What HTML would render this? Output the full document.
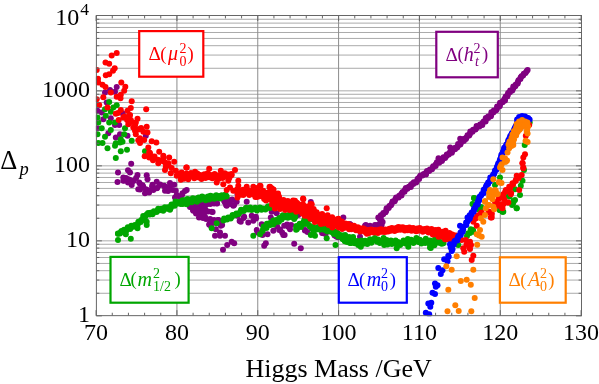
<!DOCTYPE html><html><head><meta charset="utf-8"><title>Higgs Mass fine tuning</title>
<style>html,body{margin:0;padding:0;background:#fff}svg{display:block}text{font-family:"Liberation Serif","DejaVu Serif",serif;fill:#000}.i{font-style:italic}</style></head><body>
<svg width="599" height="384" viewBox="0 0 599 384">
<rect width="599" height="384" fill="#fff"/>
<g stroke="#aaaaaa" stroke-width="1" fill="none">
<path d="M96.4 293.27H581.5"/>
<path d="M96.4 280.07H581.5"/>
<path d="M96.4 270.70H581.5"/>
<path d="M96.4 263.43H581.5"/>
<path d="M96.4 257.49H581.5"/>
<path d="M96.4 252.47H581.5"/>
<path d="M96.4 248.12H581.5"/>
<path d="M96.4 244.28H581.5"/>
<path d="M96.4 240.85H581.5"/>
<path d="M96.4 218.27H581.5"/>
<path d="M96.4 205.07H581.5"/>
<path d="M96.4 195.70H581.5"/>
<path d="M96.4 188.43H581.5"/>
<path d="M96.4 182.49H581.5"/>
<path d="M96.4 177.47H581.5"/>
<path d="M96.4 173.12H581.5"/>
<path d="M96.4 169.28H581.5"/>
<path d="M96.4 165.85H581.5"/>
<path d="M96.4 143.27H581.5"/>
<path d="M96.4 130.07H581.5"/>
<path d="M96.4 120.70H581.5"/>
<path d="M96.4 113.43H581.5"/>
<path d="M96.4 107.49H581.5"/>
<path d="M96.4 102.47H581.5"/>
<path d="M96.4 98.12H581.5"/>
<path d="M96.4 94.28H581.5"/>
<path d="M96.4 90.85H581.5"/>
<path d="M96.4 68.27H581.5"/>
<path d="M96.4 55.07H581.5"/>
<path d="M96.4 45.70H581.5"/>
<path d="M96.4 38.43H581.5"/>
<path d="M96.4 32.49H581.5"/>
<path d="M96.4 27.47H581.5"/>
<path d="M96.4 23.12H581.5"/>
<path d="M96.4 19.28H581.5"/>
</g>
<g stroke="#8c8c8c" stroke-width="1" fill="none">
<path d="M176.93 15.5V315.65"/>
<path d="M257.76 15.5V315.65"/>
<path d="M338.59 15.5V315.65"/>
<path d="M419.42 15.5V315.65"/>
<path d="M500.25 15.5V315.65"/>
</g>
<clipPath id="c"><rect x="95.9" y="15.0" width="486.1" height="301.15"/></clipPath><g clip-path="url(#c)"><g fill="#800080"><circle cx="116.7" cy="87.0" r="3"/><circle cx="110.0" cy="90.0" r="3"/><circle cx="105.0" cy="92.5" r="3"/><circle cx="115.0" cy="91.7" r="3"/><circle cx="106.7" cy="102.5" r="3"/><circle cx="97.5" cy="110.8" r="3"/><circle cx="101.7" cy="112.5" r="3"/><circle cx="122.5" cy="113.3" r="3"/><circle cx="110.8" cy="118.3" r="3"/><circle cx="103.3" cy="119.2" r="3"/><circle cx="115.0" cy="125.0" r="3"/><circle cx="119.2" cy="125.0" r="3"/><circle cx="97.5" cy="128.3" r="3"/><circle cx="108.3" cy="133.3" r="3"/><circle cx="120.0" cy="134.2" r="3"/><circle cx="127.5" cy="135.8" r="3"/><circle cx="115.8" cy="137.5" r="3"/><circle cx="145.8" cy="135.8" r="3"/><circle cx="131.2" cy="163.7" r="3"/><circle cx="118.0" cy="172.5" r="3"/><circle cx="128.0" cy="170.3" r="3"/><circle cx="130.0" cy="172.5" r="3"/><circle cx="137.5" cy="175.0" r="3"/><circle cx="146.7" cy="175.3" r="3"/><circle cx="123.3" cy="177.5" r="3"/><circle cx="128.3" cy="179.2" r="3"/><circle cx="147.5" cy="179.2" r="3"/><circle cx="117.5" cy="182.0" r="3"/><circle cx="123.3" cy="180.8" r="3"/><circle cx="133.7" cy="180.8" r="3"/><circle cx="131.7" cy="185.0" r="3"/><circle cx="139.2" cy="182.5" r="3"/><circle cx="142.5" cy="185.3" r="3"/><circle cx="138.3" cy="189.2" r="3"/><circle cx="145.8" cy="189.2" r="3"/><circle cx="145.0" cy="193.3" r="3"/><circle cx="149.2" cy="190.8" r="3"/><circle cx="152.5" cy="184.7" r="3"/><circle cx="156.7" cy="181.7" r="3"/><circle cx="156.7" cy="188.3" r="3"/><circle cx="153.3" cy="190.0" r="3"/><circle cx="160.0" cy="185.0" r="3"/><circle cx="164.2" cy="185.8" r="3"/><circle cx="165.0" cy="190.8" r="3"/><circle cx="170.0" cy="183.0" r="3"/><circle cx="169.2" cy="186.7" r="3"/><circle cx="174.2" cy="184.7" r="3"/><circle cx="172.5" cy="190.0" r="3"/><circle cx="175.8" cy="190.8" r="3"/><circle cx="176.7" cy="195.0" r="3"/><circle cx="175.0" cy="197.5" r="3"/><circle cx="182.5" cy="193.3" r="3"/><circle cx="186.7" cy="190.0" r="3"/><circle cx="180.0" cy="196.7" r="3"/><circle cx="237.5" cy="194.2" r="3"/><circle cx="190.8" cy="206.7" r="3"/><circle cx="195.8" cy="205.0" r="3"/><circle cx="201.7" cy="204.2" r="3"/><circle cx="206.7" cy="204.2" r="3"/><circle cx="211.7" cy="203.3" r="3"/><circle cx="216.7" cy="203.3" r="3"/><circle cx="193.3" cy="210.8" r="3"/><circle cx="198.3" cy="211.7" r="3"/><circle cx="203.3" cy="210.0" r="3"/><circle cx="211.7" cy="211.7" r="3"/><circle cx="200.0" cy="215.8" r="3"/><circle cx="205.0" cy="216.7" r="3"/><circle cx="210.0" cy="220.0" r="3"/><circle cx="218.3" cy="220.0" r="3"/><circle cx="210.0" cy="225.0" r="3"/><circle cx="215.8" cy="229.2" r="3"/><circle cx="220.8" cy="225.8" r="3"/><circle cx="220.0" cy="232.5" r="3"/><circle cx="215.0" cy="235.8" r="3"/><circle cx="220.0" cy="235.8" r="3"/><circle cx="225.0" cy="235.8" r="3"/><circle cx="231.7" cy="241.7" r="3"/><circle cx="234.2" cy="243.3" r="3"/><circle cx="227.2" cy="245.0" r="3"/><circle cx="223.0" cy="249.7" r="3"/><circle cx="225.0" cy="202.5" r="3"/><circle cx="230.0" cy="200.8" r="3"/><circle cx="226.7" cy="205.8" r="3"/><circle cx="233.3" cy="205.8" r="3"/><circle cx="236.7" cy="201.7" r="3"/><circle cx="246.7" cy="201.7" r="3"/><circle cx="237.5" cy="215.8" r="3"/><circle cx="240.8" cy="221.7" r="3"/><circle cx="244.2" cy="216.7" r="3"/><circle cx="248.3" cy="222.5" r="3"/><circle cx="251.7" cy="215.8" r="3"/><circle cx="255.8" cy="216.7" r="3"/><circle cx="253.3" cy="220.8" r="3"/><circle cx="256.7" cy="230.0" r="3"/><circle cx="261.7" cy="224.2" r="3"/><circle cx="257.5" cy="232.5" r="3"/><circle cx="262.5" cy="235.0" r="3"/><circle cx="267.5" cy="234.2" r="3"/><circle cx="273.3" cy="230.8" r="3"/><circle cx="279.2" cy="230.0" r="3"/><circle cx="265.8" cy="243.3" r="3"/><circle cx="264.2" cy="245.8" r="3"/><circle cx="271.7" cy="211.7" r="3"/><circle cx="270.8" cy="217.5" r="3"/><circle cx="276.7" cy="213.3" r="3"/><circle cx="283.3" cy="235.0" r="3"/><circle cx="284.2" cy="225.8" r="3"/><circle cx="288.3" cy="226.7" r="3"/><circle cx="290.0" cy="229.2" r="3"/><circle cx="294.2" cy="243.7" r="3"/><circle cx="300.8" cy="248.3" r="3"/><circle cx="305.0" cy="230.0" r="3"/><circle cx="323.3" cy="233.3" r="3"/><circle cx="336.7" cy="236.7" r="3"/><circle cx="343.3" cy="217.5" r="3"/><circle cx="350.0" cy="224.2" r="3"/><circle cx="365.8" cy="225.0" r="3"/><circle cx="298.3" cy="215.0" r="3"/><circle cx="310.8" cy="202.0" r="3"/><circle cx="350.0" cy="224.2" r="3"/><circle cx="351.7" cy="238.3" r="3"/><circle cx="360.0" cy="236.7" r="3"/><circle cx="365.0" cy="225.8" r="3"/><circle cx="370.0" cy="225.8" r="3"/><circle cx="375.0" cy="225.0" r="3"/><circle cx="378.3" cy="217.5" r="3"/><circle cx="376.0" cy="225.6" r="3"/><circle cx="377.7" cy="225.3" r="3"/><circle cx="379.0" cy="224.6" r="3"/><circle cx="381.5" cy="225.2" r="3"/><circle cx="381.3" cy="223.9" r="3"/><circle cx="382.6" cy="222.0" r="3"/><circle cx="381.4" cy="220.7" r="3"/><circle cx="379.9" cy="219.6" r="3"/><circle cx="380.2" cy="218.3" r="3"/><circle cx="380.8" cy="216.8" r="3"/><circle cx="380.9" cy="215.2" r="3"/><circle cx="383.2" cy="214.3" r="3"/><circle cx="383.3" cy="213.0" r="3"/><circle cx="385.6" cy="212.2" r="3"/><circle cx="386.3" cy="210.4" r="3"/><circle cx="386.6" cy="208.3" r="3"/><circle cx="388.7" cy="207.9" r="3"/><circle cx="389.4" cy="206.1" r="3"/><circle cx="391.0" cy="205.3" r="3"/><circle cx="391.7" cy="203.8" r="3"/><circle cx="392.5" cy="201.6" r="3"/><circle cx="394.7" cy="201.3" r="3"/><circle cx="395.3" cy="199.3" r="3"/><circle cx="396.1" cy="197.6" r="3"/><circle cx="398.6" cy="197.4" r="3"/><circle cx="399.2" cy="195.7" r="3"/><circle cx="401.5" cy="195.4" r="3"/><circle cx="401.4" cy="193.7" r="3"/><circle cx="402.6" cy="191.9" r="3"/><circle cx="404.5" cy="191.7" r="3"/><circle cx="404.8" cy="190.1" r="3"/><circle cx="405.8" cy="188.1" r="3"/><circle cx="407.4" cy="188.8" r="3"/><circle cx="408.8" cy="186.7" r="3"/><circle cx="410.8" cy="187.1" r="3"/><circle cx="410.8" cy="185.3" r="3"/><circle cx="411.8" cy="184.0" r="3"/><circle cx="413.3" cy="183.9" r="3"/><circle cx="413.8" cy="182.3" r="3"/><circle cx="416.2" cy="182.4" r="3"/><circle cx="417.2" cy="180.5" r="3"/><circle cx="417.7" cy="178.7" r="3"/><circle cx="419.1" cy="178.9" r="3"/><circle cx="419.5" cy="177.0" r="3"/><circle cx="420.5" cy="175.5" r="3"/><circle cx="422.5" cy="175.4" r="3"/><circle cx="423.7" cy="173.9" r="3"/><circle cx="426.0" cy="174.4" r="3"/><circle cx="426.2" cy="172.4" r="3"/><circle cx="427.0" cy="170.9" r="3"/><circle cx="429.2" cy="171.0" r="3"/><circle cx="429.9" cy="169.5" r="3"/><circle cx="432.0" cy="169.3" r="3"/><circle cx="432.8" cy="167.5" r="3"/><circle cx="433.2" cy="166.2" r="3"/><circle cx="435.6" cy="166.0" r="3"/><circle cx="435.8" cy="164.2" r="3"/><circle cx="436.9" cy="162.2" r="3"/><circle cx="439.2" cy="162.7" r="3"/><circle cx="439.4" cy="160.9" r="3"/><circle cx="441.9" cy="161.1" r="3"/><circle cx="442.5" cy="159.5" r="3"/><circle cx="443.5" cy="157.3" r="3"/><circle cx="445.1" cy="157.9" r="3"/><circle cx="446.5" cy="155.9" r="3"/><circle cx="446.8" cy="154.4" r="3"/><circle cx="448.8" cy="154.5" r="3"/><circle cx="449.5" cy="152.8" r="3"/><circle cx="451.8" cy="152.8" r="3"/><circle cx="452.1" cy="151.3" r="3"/><circle cx="452.3" cy="149.5" r="3"/><circle cx="455.0" cy="149.3" r="3"/><circle cx="455.1" cy="147.8" r="3"/><circle cx="457.2" cy="147.5" r="3"/><circle cx="457.9" cy="146.0" r="3"/><circle cx="458.1" cy="144.1" r="3"/><circle cx="460.4" cy="144.4" r="3"/><circle cx="461.0" cy="142.6" r="3"/><circle cx="461.2" cy="140.6" r="3"/><circle cx="463.8" cy="140.9" r="3"/><circle cx="464.1" cy="138.8" r="3"/><circle cx="465.9" cy="138.9" r="3"/><circle cx="466.5" cy="137.4" r="3"/><circle cx="467.5" cy="135.3" r="3"/><circle cx="469.2" cy="135.6" r="3"/><circle cx="469.9" cy="133.9" r="3"/><circle cx="470.3" cy="131.6" r="3"/><circle cx="472.5" cy="131.8" r="3"/><circle cx="473.1" cy="129.7" r="3"/><circle cx="475.5" cy="129.6" r="3"/><circle cx="476.1" cy="128.2" r="3"/><circle cx="476.6" cy="125.9" r="3"/><circle cx="479.4" cy="126.6" r="3"/><circle cx="480.1" cy="124.6" r="3"/><circle cx="482.3" cy="125.1" r="3"/><circle cx="482.4" cy="123.3" r="3"/><circle cx="483.6" cy="121.5" r="3"/><circle cx="485.6" cy="121.4" r="3"/><circle cx="485.7" cy="119.6" r="3"/><circle cx="485.8" cy="118.1" r="3"/><circle cx="488.1" cy="118.1" r="3"/><circle cx="488.2" cy="116.4" r="3"/><circle cx="490.9" cy="116.3" r="3"/><circle cx="491.3" cy="114.5" r="3"/><circle cx="491.4" cy="112.2" r="3"/><circle cx="493.6" cy="112.2" r="3"/><circle cx="493.8" cy="110.6" r="3"/><circle cx="496.2" cy="110.2" r="3"/><circle cx="497.0" cy="108.5" r="3"/><circle cx="497.1" cy="106.4" r="3"/><circle cx="499.7" cy="106.3" r="3"/><circle cx="500.1" cy="104.3" r="3"/><circle cx="500.0" cy="102.7" r="3"/><circle cx="502.6" cy="102.2" r="3"/><circle cx="502.9" cy="100.9" r="3"/><circle cx="505.0" cy="100.6" r="3"/><circle cx="504.7" cy="98.7" r="3"/><circle cx="505.7" cy="96.6" r="3"/><circle cx="507.3" cy="96.5" r="3"/><circle cx="507.8" cy="94.8" r="3"/><circle cx="508.1" cy="93.1" r="3"/><circle cx="509.9" cy="92.3" r="3"/><circle cx="510.2" cy="90.4" r="3"/><circle cx="512.3" cy="90.6" r="3"/><circle cx="513.3" cy="88.2" r="3"/><circle cx="513.3" cy="86.6" r="3"/><circle cx="515.3" cy="86.2" r="3"/><circle cx="515.8" cy="84.5" r="3"/><circle cx="517.7" cy="83.6" r="3"/><circle cx="518.0" cy="81.7" r="3"/><circle cx="518.5" cy="80.2" r="3"/><circle cx="520.4" cy="79.1" r="3"/><circle cx="520.6" cy="77.6" r="3"/><circle cx="521.5" cy="76.2" r="3"/><circle cx="523.1" cy="75.6" r="3"/><circle cx="523.8" cy="73.7" r="3"/><circle cx="525.5" cy="73.0" r="3"/><circle cx="526.6" cy="71.3" r="3"/><circle cx="438.5" cy="158.3" r="3"/><circle cx="450.2" cy="147.5" r="3"/><circle cx="460.2" cy="138.7" r="3"/><circle cx="527.6" cy="70.0" r="3"/><circle cx="190.0" cy="207.0" r="3"/><circle cx="194.0" cy="206.0" r="3"/><circle cx="198.0" cy="205.0" r="3"/><circle cx="202.0" cy="205.0" r="3"/><circle cx="206.1" cy="204.0" r="3"/><circle cx="210.1" cy="204.0" r="3"/><circle cx="214.1" cy="203.5" r="3"/><circle cx="217.1" cy="203.5" r="3"/><circle cx="193.0" cy="210.0" r="3"/><circle cx="197.0" cy="210.0" r="3"/><circle cx="201.0" cy="209.0" r="3"/><circle cx="205.1" cy="209.0" r="3"/><circle cx="196.0" cy="213.5" r="3"/><circle cx="200.0" cy="214.0" r="3"/><circle cx="204.0" cy="213.0" r="3"/><circle cx="208.1" cy="211.5" r="3"/><circle cx="212.6" cy="212.0" r="3"/><circle cx="199.0" cy="217.6" r="3"/><circle cx="203.0" cy="218.1" r="3"/><circle cx="206.1" cy="219.1" r="3"/><circle cx="210.1" cy="219.1" r="3"/><circle cx="214.1" cy="220.1" r="3"/><circle cx="218.1" cy="220.1" r="3"/><circle cx="209.1" cy="224.6" r="3"/><circle cx="213.1" cy="223.1" r="3"/><circle cx="220.1" cy="223.1" r="3"/><circle cx="222.1" cy="225.1" r="3"/><circle cx="224.1" cy="201.0" r="3"/><circle cx="228.1" cy="200.0" r="3"/><circle cx="232.1" cy="199.5" r="3"/><circle cx="226.1" cy="205.0" r="3"/><circle cx="230.1" cy="204.0" r="3"/><circle cx="234.1" cy="205.0" r="3"/><circle cx="236.1" cy="201.0" r="3"/><circle cx="238.1" cy="194.0" r="3"/><circle cx="185.0" cy="191.0" r="3"/><circle cx="182.0" cy="195.0" r="3"/><circle cx="239.6" cy="221.1" r="3"/><circle cx="287.1" cy="224.5" r="3"/><circle cx="291.1" cy="225.0" r="3"/><circle cx="284.6" cy="235.1" r="3"/><circle cx="280.1" cy="229.5" r="3"/><circle cx="282.1" cy="232.6" r="3"/><circle cx="277.1" cy="226.5" r="3"/><circle cx="243.5" cy="218.0" r="3"/><circle cx="256.0" cy="218.5" r="3"/><circle cx="305.0" cy="230.5" r="3"/><circle cx="307.5" cy="232.0" r="3"/><circle cx="322.1" cy="233.0" r="3"/><circle cx="325.6" cy="234.0" r="3"/><circle cx="334.6" cy="235.5" r="3"/><circle cx="338.1" cy="237.2" r="3"/><circle cx="126.0" cy="178.0" r="3"/><circle cx="130.0" cy="180.0" r="3"/><circle cx="128.0" cy="182.5" r="3"/><circle cx="133.0" cy="181.0" r="3"/><circle cx="136.1" cy="178.0" r="3"/><circle cx="140.1" cy="184.0" r="3"/><circle cx="143.1" cy="186.5" r="3"/><circle cx="140.1" cy="189.5" r="3"/><circle cx="147.1" cy="190.1" r="3"/><circle cx="152.1" cy="186.5" r="3"/><circle cx="157.1" cy="188.0" r="3"/><circle cx="160.1" cy="184.5" r="3"/><circle cx="164.6" cy="186.5" r="3"/><circle cx="168.1" cy="191.1" r="3"/><circle cx="149.1" cy="192.6" r="3"/><circle cx="124.0" cy="180.5" r="3"/></g><g fill="#00a600"><circle cx="109.2" cy="102.0" r="3"/><circle cx="116.7" cy="105.3" r="3"/><circle cx="113.3" cy="107.5" r="3"/><circle cx="105.0" cy="109.2" r="3"/><circle cx="110.8" cy="111.7" r="3"/><circle cx="105.8" cy="115.8" r="3"/><circle cx="97.5" cy="117.5" r="3"/><circle cx="98.3" cy="122.5" r="3"/><circle cx="109.2" cy="122.5" r="3"/><circle cx="115.0" cy="122.5" r="3"/><circle cx="125.0" cy="128.3" r="3"/><circle cx="101.7" cy="128.3" r="3"/><circle cx="110.8" cy="130.0" r="3"/><circle cx="97.5" cy="134.2" r="3"/><circle cx="124.2" cy="134.2" r="3"/><circle cx="105.0" cy="136.7" r="3"/><circle cx="120.8" cy="139.2" r="3"/><circle cx="131.7" cy="140.8" r="3"/><circle cx="102.5" cy="143.0" r="3"/><circle cx="98.3" cy="143.0" r="3"/><circle cx="115.8" cy="143.3" r="3"/><circle cx="107.5" cy="148.3" r="3"/><circle cx="115.0" cy="145.8" r="3"/><circle cx="120.0" cy="142.5" r="3"/><circle cx="122.5" cy="141.7" r="3"/><circle cx="120.8" cy="151.3" r="3"/><circle cx="127.0" cy="149.7" r="3"/><circle cx="115.8" cy="158.0" r="3"/><circle cx="145.0" cy="151.3" r="3"/><circle cx="118.0" cy="233.5" r="3"/><circle cx="120.0" cy="233.6" r="3"/><circle cx="121.0" cy="231.9" r="3"/><circle cx="121.5" cy="231.0" r="3"/><circle cx="123.7" cy="231.6" r="3"/><circle cx="124.1" cy="229.8" r="3"/><circle cx="126.2" cy="230.8" r="3"/><circle cx="127.2" cy="228.9" r="3"/><circle cx="127.8" cy="227.2" r="3"/><circle cx="130.2" cy="229.0" r="3"/><circle cx="130.5" cy="227.4" r="3"/><circle cx="131.3" cy="225.7" r="3"/><circle cx="133.3" cy="226.8" r="3"/><circle cx="134.9" cy="224.9" r="3"/><circle cx="137.3" cy="225.9" r="3"/><circle cx="138.1" cy="223.6" r="3"/><circle cx="138.4" cy="221.8" r="3"/><circle cx="140.8" cy="222.0" r="3"/><circle cx="141.3" cy="220.1" r="3"/><circle cx="144.1" cy="220.1" r="3"/><circle cx="143.4" cy="218.0" r="3"/><circle cx="143.2" cy="216.0" r="3"/><circle cx="145.2" cy="216.7" r="3"/><circle cx="146.7" cy="214.6" r="3"/><circle cx="148.1" cy="212.9" r="3"/><circle cx="149.6" cy="214.5" r="3"/><circle cx="150.6" cy="212.7" r="3"/><circle cx="152.5" cy="214.3" r="3"/><circle cx="153.0" cy="212.9" r="3"/><circle cx="153.9" cy="211.2" r="3"/><circle cx="156.6" cy="212.0" r="3"/><circle cx="157.5" cy="210.6" r="3"/><circle cx="158.2" cy="208.7" r="3"/><circle cx="159.7" cy="210.2" r="3"/><circle cx="161.5" cy="208.7" r="3"/><circle cx="163.2" cy="210.8" r="3"/><circle cx="164.3" cy="208.9" r="3"/><circle cx="164.9" cy="207.3" r="3"/><circle cx="167.3" cy="208.8" r="3"/><circle cx="168.0" cy="207.3" r="3"/><circle cx="170.6" cy="208.2" r="3"/><circle cx="171.3" cy="206.2" r="3"/><circle cx="171.5" cy="204.4" r="3"/><circle cx="174.6" cy="205.8" r="3"/><circle cx="175.2" cy="203.8" r="3"/><circle cx="175.5" cy="201.6" r="3"/><circle cx="177.5" cy="203.6" r="3"/><circle cx="178.2" cy="201.9" r="3"/><circle cx="180.7" cy="204.0" r="3"/><circle cx="181.0" cy="202.5" r="3"/><circle cx="182.5" cy="200.2" r="3"/><circle cx="184.1" cy="202.9" r="3"/><circle cx="185.7" cy="200.9" r="3"/><circle cx="187.2" cy="203.2" r="3"/><circle cx="180.5" cy="203.1" r="3"/><circle cx="181.2" cy="201.6" r="3"/><circle cx="182.8" cy="203.9" r="3"/><circle cx="183.3" cy="202.3" r="3"/><circle cx="184.6" cy="200.3" r="3"/><circle cx="185.8" cy="202.8" r="3"/><circle cx="186.5" cy="201.0" r="3"/><circle cx="187.3" cy="198.9" r="3"/><circle cx="189.1" cy="201.7" r="3"/><circle cx="189.4" cy="199.5" r="3"/><circle cx="191.7" cy="202.3" r="3"/><circle cx="192.5" cy="200.0" r="3"/><circle cx="192.8" cy="198.3" r="3"/><circle cx="194.9" cy="200.7" r="3"/><circle cx="195.6" cy="198.8" r="3"/><circle cx="197.0" cy="201.7" r="3"/><circle cx="197.6" cy="199.8" r="3"/><circle cx="198.5" cy="197.5" r="3"/><circle cx="199.9" cy="200.1" r="3"/><circle cx="201.4" cy="198.1" r="3"/><circle cx="202.1" cy="196.5" r="3"/><circle cx="203.2" cy="199.0" r="3"/><circle cx="204.6" cy="197.4" r="3"/><circle cx="205.6" cy="200.2" r="3"/><circle cx="206.4" cy="198.6" r="3"/><circle cx="208.0" cy="196.5" r="3"/><circle cx="209.2" cy="199.4" r="3"/><circle cx="209.8" cy="197.4" r="3"/><circle cx="210.5" cy="195.7" r="3"/><circle cx="212.3" cy="198.2" r="3"/><circle cx="213.2" cy="196.5" r="3"/><circle cx="214.4" cy="198.7" r="3"/><circle cx="215.6" cy="197.1" r="3"/><circle cx="216.2" cy="195.2" r="3"/><circle cx="218.3" cy="197.9" r="3"/><circle cx="219.0" cy="195.9" r="3"/><circle cx="220.1" cy="198.4" r="3"/><circle cx="221.2" cy="196.8" r="3"/><circle cx="221.8" cy="195.3" r="3"/><circle cx="223.3" cy="197.1" r="3"/><circle cx="224.6" cy="196.1" r="3"/><circle cx="225.5" cy="194.6" r="3"/><circle cx="226.7" cy="196.6" r="3"/><circle cx="118.0" cy="233.7" r="3"/><circle cx="118.0" cy="240.0" r="3"/><circle cx="130.8" cy="238.7" r="3"/><circle cx="146.7" cy="221.7" r="3"/><circle cx="146.7" cy="225.0" r="3"/><circle cx="125.8" cy="234.2" r="3"/><circle cx="137.5" cy="228.3" r="3"/><circle cx="170.0" cy="209.7" r="3"/><circle cx="186.7" cy="204.2" r="3"/><circle cx="211.7" cy="228.3" r="3"/><circle cx="216.7" cy="223.3" r="3"/><circle cx="223.4" cy="220.6" r="3"/><circle cx="224.1" cy="218.4" r="3"/><circle cx="227.0" cy="219.5" r="3"/><circle cx="228.2" cy="217.6" r="3"/><circle cx="230.7" cy="218.4" r="3"/><circle cx="231.9" cy="216.8" r="3"/><circle cx="232.6" cy="214.9" r="3"/><circle cx="235.5" cy="215.1" r="3"/><circle cx="236.4" cy="213.4" r="3"/><circle cx="238.7" cy="214.0" r="3"/><circle cx="240.2" cy="212.1" r="3"/><circle cx="241.1" cy="209.8" r="3"/><circle cx="243.8" cy="211.1" r="3"/><circle cx="244.9" cy="209.2" r="3"/><circle cx="246.1" cy="207.8" r="3"/><circle cx="248.3" cy="209.6" r="3"/><circle cx="250.2" cy="207.4" r="3"/><circle cx="251.6" cy="209.9" r="3"/><circle cx="253.7" cy="209.1" r="3"/><circle cx="255.2" cy="207.8" r="3"/><circle cx="256.9" cy="210.4" r="3"/><circle cx="258.7" cy="208.5" r="3"/><circle cx="259.9" cy="207.5" r="3"/><circle cx="261.5" cy="209.7" r="3"/><circle cx="262.7" cy="208.6" r="3"/><circle cx="265.4" cy="209.6" r="3"/><circle cx="266.7" cy="207.9" r="3"/><circle cx="268.1" cy="206.3" r="3"/><circle cx="269.9" cy="207.9" r="3"/><circle cx="253.3" cy="235.8" r="3"/><circle cx="260.0" cy="234.2" r="3"/><circle cx="262.6" cy="231.1" r="3"/><circle cx="263.1" cy="229.0" r="3"/><circle cx="263.7" cy="226.6" r="3"/><circle cx="266.5" cy="227.9" r="3"/><circle cx="266.8" cy="225.8" r="3"/><circle cx="266.9" cy="223.7" r="3"/><circle cx="270.2" cy="225.0" r="3"/><circle cx="270.0" cy="223.1" r="3"/><circle cx="273.3" cy="224.6" r="3"/><circle cx="273.2" cy="222.6" r="3"/><circle cx="273.3" cy="220.5" r="3"/><circle cx="275.8" cy="221.9" r="3"/><circle cx="276.1" cy="220.0" r="3"/><circle cx="278.9" cy="221.8" r="3"/><circle cx="279.1" cy="220.0" r="3"/><circle cx="279.3" cy="217.9" r="3"/><circle cx="281.6" cy="219.4" r="3"/><circle cx="282.2" cy="217.7" r="3"/><circle cx="282.8" cy="215.3" r="3"/><circle cx="285.2" cy="217.3" r="3"/><circle cx="285.9" cy="215.6" r="3"/><circle cx="287.9" cy="217.7" r="3"/><circle cx="288.6" cy="216.0" r="3"/><circle cx="289.8" cy="214.3" r="3"/><circle cx="291.0" cy="216.9" r="3"/><circle cx="291.7" cy="214.7" r="3"/><circle cx="295.4" cy="213.8" r="3"/><circle cx="293.4" cy="216.1" r="3"/><circle cx="295.3" cy="217.1" r="3"/><circle cx="294.2" cy="219.0" r="3"/><circle cx="296.1" cy="229.7" r="3"/><circle cx="296.3" cy="227.6" r="3"/><circle cx="296.4" cy="226.1" r="3"/><circle cx="298.9" cy="226.0" r="3"/><circle cx="299.7" cy="223.7" r="3"/><circle cx="302.4" cy="224.0" r="3"/><circle cx="303.7" cy="221.8" r="3"/><circle cx="304.5" cy="219.6" r="3"/><circle cx="306.7" cy="221.0" r="3"/><circle cx="308.6" cy="219.4" r="3"/><circle cx="309.6" cy="217.6" r="3"/><circle cx="312.4" cy="219.2" r="3"/><circle cx="313.3" cy="233.3" r="3"/><circle cx="315.0" cy="235.8" r="3"/><circle cx="310.8" cy="235.0" r="3"/><circle cx="326.7" cy="238.3" r="3"/><circle cx="335.5" cy="245.0" r="3"/><circle cx="309.9" cy="226.4" r="3"/><circle cx="312.0" cy="228.8" r="3"/><circle cx="313.3" cy="227.8" r="3"/><circle cx="314.7" cy="230.1" r="3"/><circle cx="316.8" cy="228.2" r="3"/><circle cx="318.2" cy="227.1" r="3"/><circle cx="319.7" cy="229.6" r="3"/><circle cx="321.3" cy="228.2" r="3"/><circle cx="323.1" cy="227.2" r="3"/><circle cx="324.6" cy="230.0" r="3"/><circle cx="326.4" cy="228.8" r="3"/><circle cx="327.2" cy="231.4" r="3"/><circle cx="328.7" cy="230.7" r="3"/><circle cx="330.9" cy="229.4" r="3"/><circle cx="331.3" cy="232.1" r="3"/><circle cx="333.4" cy="231.1" r="3"/><circle cx="333.9" cy="234.1" r="3"/><circle cx="336.3" cy="234.1" r="3"/><circle cx="337.9" cy="233.4" r="3"/><circle cx="338.2" cy="236.4" r="3"/><circle cx="340.5" cy="236.4" r="3"/><circle cx="342.7" cy="235.6" r="3"/><circle cx="342.6" cy="239.1" r="3"/><circle cx="345.5" cy="237.8" r="3"/><circle cx="344.8" cy="241.3" r="3"/><circle cx="347.5" cy="240.2" r="3"/><circle cx="349.4" cy="239.3" r="3"/><circle cx="350.0" cy="242.9" r="3"/><circle cx="351.7" cy="241.7" r="3"/><circle cx="353.3" cy="239.7" r="3"/><circle cx="354.7" cy="243.3" r="3"/><circle cx="357.2" cy="240.9" r="3"/><circle cx="358.2" cy="245.0" r="3"/><circle cx="359.7" cy="242.7" r="3"/><circle cx="361.6" cy="240.6" r="3"/><circle cx="363.3" cy="243.7" r="3"/><circle cx="365.2" cy="240.8" r="3"/><circle cx="367.3" cy="244.0" r="3"/><circle cx="368.3" cy="241.8" r="3"/><circle cx="370.0" cy="239.3" r="3"/><circle cx="371.4" cy="242.7" r="3"/><circle cx="373.6" cy="240.4" r="3"/><circle cx="374.8" cy="238.0" r="3"/><circle cx="377.1" cy="241.7" r="3"/><circle cx="377.9" cy="239.5" r="3"/><circle cx="379.9" cy="242.9" r="3"/><circle cx="381.4" cy="240.6" r="3"/><circle cx="383.6" cy="238.1" r="3"/><circle cx="384.6" cy="242.0" r="3"/><circle cx="386.7" cy="240.0" r="3"/><circle cx="387.5" cy="244.4" r="3"/><circle cx="389.1" cy="242.3" r="3"/><circle cx="390.9" cy="240.4" r="3"/><circle cx="391.8" cy="244.0" r="3"/><circle cx="394.1" cy="242.1" r="3"/><circle cx="395.6" cy="240.4" r="3"/><circle cx="396.7" cy="244.2" r="3"/><circle cx="398.0" cy="241.9" r="3"/><circle cx="400.1" cy="244.9" r="3"/><circle cx="402.1" cy="242.5" r="3"/><circle cx="403.5" cy="240.5" r="3"/><circle cx="405.3" cy="243.5" r="3"/><circle cx="406.2" cy="241.1" r="3"/><circle cx="407.8" cy="238.9" r="3"/><circle cx="410.5" cy="242.2" r="3"/><circle cx="411.2" cy="239.8" r="3"/><circle cx="413.4" cy="242.9" r="3"/><circle cx="415.1" cy="240.8" r="3"/><circle cx="416.4" cy="238.1" r="3"/><circle cx="418.5" cy="242.0" r="3"/><circle cx="419.9" cy="239.8" r="3"/><circle cx="421.4" cy="243.4" r="3"/><circle cx="423.6" cy="241.2" r="3"/><circle cx="425.8" cy="238.7" r="3"/><circle cx="425.1" cy="242.9" r="3"/><circle cx="427.6" cy="241.6" r="3"/><circle cx="429.9" cy="240.4" r="3"/><circle cx="429.7" cy="243.9" r="3"/><circle cx="430.9" cy="242.8" r="3"/><circle cx="434.4" cy="245.3" r="3"/><circle cx="435.0" cy="242.6" r="3"/><circle cx="437.6" cy="239.9" r="3"/><circle cx="438.8" cy="242.7" r="3"/><circle cx="440.7" cy="241.9" r="3"/><circle cx="441.7" cy="243.7" r="3"/><circle cx="360.8" cy="246.7" r="3"/><circle cx="396.7" cy="248.3" r="3"/><circle cx="430.8" cy="248.0" r="3"/><circle cx="436.7" cy="237.5" r="3"/><circle cx="443.3" cy="242.5" r="3"/><circle cx="384.2" cy="245.0" r="3"/><circle cx="408.3" cy="246.7" r="3"/><circle cx="435.0" cy="239.2" r="3"/><circle cx="432.5" cy="244.2" r="3"/><circle cx="430.0" cy="247.5" r="3"/><circle cx="443.3" cy="243.3" r="3"/><circle cx="470.8" cy="229.2" r="3"/><circle cx="468.3" cy="233.3" r="3"/><circle cx="473.3" cy="231.7" r="3"/><circle cx="516.7" cy="208.3" r="3"/><circle cx="513.3" cy="202.5" r="3"/><circle cx="503.3" cy="211.7" r="3"/><circle cx="458.3" cy="245.0" r="3"/><circle cx="500.0" cy="177.5" r="3"/><circle cx="522.5" cy="180.8" r="3"/><circle cx="520.8" cy="185.8" r="3"/><circle cx="495.0" cy="185.0" r="3"/><circle cx="515.0" cy="189.2" r="3"/><circle cx="520.0" cy="195.0" r="3"/><circle cx="515.0" cy="200.0" r="3"/><circle cx="474.2" cy="198.3" r="3"/><circle cx="473.3" cy="204.2" r="3"/><circle cx="480.0" cy="208.3" r="3"/><circle cx="512.5" cy="204.2" r="3"/><circle cx="516.7" cy="208.3" r="3"/><circle cx="502.5" cy="211.7" r="3"/><circle cx="508.3" cy="195.8" r="3"/><circle cx="500.0" cy="210.0" r="3"/><circle cx="529.7" cy="122.5" r="3"/><circle cx="524.7" cy="145.0" r="3"/><circle cx="524.0" cy="170.0" r="3"/><circle cx="297.0" cy="229.0" r="3"/><circle cx="301.0" cy="227.0" r="3"/><circle cx="305.0" cy="224.0" r="3"/><circle cx="309.0" cy="225.0" r="3"/><circle cx="313.0" cy="227.0" r="3"/><circle cx="316.5" cy="229.5" r="3"/><circle cx="320.1" cy="229.5" r="3"/><circle cx="324.1" cy="228.0" r="3"/><circle cx="328.1" cy="230.0" r="3"/><circle cx="332.1" cy="231.0" r="3"/><circle cx="336.1" cy="232.0" r="3"/><circle cx="340.1" cy="235.0" r="3"/><circle cx="343.1" cy="239.0" r="3"/><circle cx="347.1" cy="242.0" r="3"/><circle cx="351.1" cy="243.0" r="3"/><circle cx="354.1" cy="241.5" r="3"/><circle cx="345.1" cy="235.0" r="3"/><circle cx="349.1" cy="237.0" r="3"/><circle cx="353.1" cy="237.0" r="3"/><circle cx="481.1" cy="207.0" r="3"/><circle cx="478.5" cy="209.5" r="3"/><circle cx="502.6" cy="211.5" r="3"/><circle cx="499.6" cy="210.0" r="3"/><circle cx="509.6" cy="196.5" r="3"/><circle cx="513.6" cy="201.0" r="3"/><circle cx="512.1" cy="205.0" r="3"/><circle cx="474.0" cy="198.0" r="3"/><circle cx="472.5" cy="204.0" r="3"/><circle cx="467.0" cy="236.0" r="3"/><circle cx="470.0" cy="233.0" r="3"/><circle cx="473.0" cy="230.0" r="3"/></g><g fill="#ff0000"><circle cx="116.7" cy="53.0" r="3"/><circle cx="111.7" cy="55.5" r="3"/><circle cx="105.5" cy="62.5" r="3"/><circle cx="109.2" cy="63.7" r="3"/><circle cx="114.7" cy="68.3" r="3"/><circle cx="113.0" cy="70.8" r="3"/><circle cx="109.2" cy="74.2" r="3"/><circle cx="105.8" cy="75.3" r="3"/><circle cx="96.7" cy="70.0" r="3"/><circle cx="98.3" cy="82.5" r="3"/><circle cx="102.5" cy="84.7" r="3"/><circle cx="105.5" cy="87.0" r="3"/><circle cx="121.3" cy="82.5" r="3"/><circle cx="125.3" cy="86.7" r="3"/><circle cx="124.2" cy="90.8" r="3"/><circle cx="120.8" cy="94.7" r="3"/><circle cx="116.7" cy="96.7" r="3"/><circle cx="120.5" cy="98.3" r="3"/><circle cx="110.8" cy="92.5" r="3"/><circle cx="103.3" cy="97.2" r="3"/><circle cx="96.7" cy="99.2" r="3"/><circle cx="131.7" cy="101.3" r="3"/><circle cx="99.2" cy="105.0" r="3"/><circle cx="107.5" cy="107.5" r="3"/><circle cx="130.8" cy="108.0" r="3"/><circle cx="146.2" cy="109.2" r="3"/><circle cx="120.8" cy="110.0" r="3"/><circle cx="127.5" cy="110.8" r="3"/><circle cx="115.8" cy="113.8" r="3"/><circle cx="130.0" cy="115.0" r="3"/><circle cx="123.3" cy="117.5" r="3"/><circle cx="137.5" cy="118.7" r="3"/><circle cx="118.7" cy="120.0" r="3"/><circle cx="130.8" cy="120.0" r="3"/><circle cx="135.8" cy="122.5" r="3"/><circle cx="128.3" cy="124.2" r="3"/><circle cx="146.7" cy="126.7" r="3"/><circle cx="133.3" cy="127.5" r="3"/><circle cx="139.2" cy="129.2" r="3"/><circle cx="135.0" cy="130.8" r="3"/><circle cx="143.3" cy="131.7" r="3"/><circle cx="147.5" cy="132.5" r="3"/><circle cx="135.8" cy="134.2" r="3"/><circle cx="140.0" cy="138.3" r="3"/><circle cx="144.2" cy="140.0" r="3"/><circle cx="138.3" cy="140.3" r="3"/><circle cx="151.7" cy="141.3" r="3"/><circle cx="156.3" cy="142.5" r="3"/><circle cx="148.3" cy="147.5" r="3"/><circle cx="149.2" cy="152.5" r="3"/><circle cx="159.2" cy="151.7" r="3"/><circle cx="144.7" cy="156.3" r="3"/><circle cx="149.2" cy="157.5" r="3"/><circle cx="153.3" cy="156.7" r="3"/><circle cx="163.3" cy="155.8" r="3"/><circle cx="169.2" cy="157.5" r="3"/><circle cx="153.0" cy="160.3" r="3"/><circle cx="158.0" cy="159.7" r="3"/><circle cx="163.3" cy="161.3" r="3"/><circle cx="158.3" cy="163.3" r="3"/><circle cx="174.2" cy="161.7" r="3"/><circle cx="168.3" cy="163.3" r="3"/><circle cx="165.8" cy="166.7" r="3"/><circle cx="171.7" cy="168.0" r="3"/><circle cx="165.0" cy="170.0" r="3"/><circle cx="175.8" cy="170.8" r="3"/><circle cx="186.3" cy="167.5" r="3"/><circle cx="170.8" cy="173.3" r="3"/><circle cx="181.7" cy="172.5" r="3"/><circle cx="176.7" cy="175.8" r="3"/><circle cx="185.8" cy="175.8" r="3"/><circle cx="180.8" cy="179.7" r="3"/><circle cx="188.3" cy="179.2" r="3"/><circle cx="180.0" cy="173.5" r="3"/><circle cx="181.3" cy="177.2" r="3"/><circle cx="182.7" cy="174.6" r="3"/><circle cx="184.0" cy="178.8" r="3"/><circle cx="185.6" cy="176.0" r="3"/><circle cx="186.5" cy="173.6" r="3"/><circle cx="188.2" cy="177.9" r="3"/><circle cx="189.0" cy="175.6" r="3"/><circle cx="191.0" cy="173.0" r="3"/><circle cx="192.1" cy="176.6" r="3"/><circle cx="192.9" cy="174.4" r="3"/><circle cx="194.3" cy="178.2" r="3"/><circle cx="195.8" cy="175.6" r="3"/><circle cx="197.3" cy="173.4" r="3"/><circle cx="198.9" cy="177.4" r="3"/><circle cx="200.1" cy="175.0" r="3"/><circle cx="201.5" cy="178.9" r="3"/><circle cx="202.5" cy="176.8" r="3"/><circle cx="204.4" cy="174.3" r="3"/><circle cx="205.5" cy="177.9" r="3"/><circle cx="206.5" cy="175.4" r="3"/><circle cx="207.7" cy="173.3" r="3"/><circle cx="209.3" cy="177.3" r="3"/><circle cx="210.6" cy="174.9" r="3"/><circle cx="212.3" cy="178.3" r="3"/><circle cx="213.1" cy="176.4" r="3"/><circle cx="214.6" cy="174.0" r="3"/><circle cx="215.9" cy="177.4" r="3"/><circle cx="217.4" cy="175.4" r="3"/><circle cx="218.5" cy="178.9" r="3"/><circle cx="219.9" cy="177.0" r="3"/><circle cx="221.4" cy="174.0" r="3"/><circle cx="222.5" cy="177.9" r="3"/><circle cx="223.5" cy="175.8" r="3"/><circle cx="224.8" cy="173.2" r="3"/><circle cx="226.5" cy="176.8" r="3"/><circle cx="227.9" cy="174.4" r="3"/><circle cx="229.3" cy="178.1" r="3"/><circle cx="230.3" cy="175.8" r="3"/><circle cx="231.4" cy="173.9" r="3"/><circle cx="186.7" cy="167.5" r="3"/><circle cx="209.2" cy="168.7" r="3"/><circle cx="235.0" cy="170.0" r="3"/><circle cx="220.8" cy="170.8" r="3"/><circle cx="195.0" cy="171.7" r="3"/><circle cx="231.7" cy="175.0" r="3"/><circle cx="216.7" cy="182.5" r="3"/><circle cx="223.3" cy="184.2" r="3"/><circle cx="228.3" cy="180.8" r="3"/><circle cx="238.3" cy="180.8" r="3"/><circle cx="230.0" cy="187.5" r="3"/><circle cx="226.7" cy="190.0" r="3"/><circle cx="233.3" cy="190.8" r="3"/><circle cx="238.3" cy="185.8" r="3"/><circle cx="241.7" cy="190.8" r="3"/><circle cx="246.7" cy="186.7" r="3"/><circle cx="253.3" cy="186.7" r="3"/><circle cx="260.0" cy="185.8" r="3"/><circle cx="270.0" cy="186.7" r="3"/><circle cx="237.5" cy="197.5" r="3"/><circle cx="243.3" cy="195.0" r="3"/><circle cx="250.0" cy="193.3" r="3"/><circle cx="237.0" cy="189.4" r="3"/><circle cx="237.5" cy="192.8" r="3"/><circle cx="239.1" cy="190.7" r="3"/><circle cx="240.4" cy="194.8" r="3"/><circle cx="241.6" cy="192.4" r="3"/><circle cx="243.0" cy="189.8" r="3"/><circle cx="243.8" cy="193.9" r="3"/><circle cx="245.5" cy="191.4" r="3"/><circle cx="246.8" cy="188.9" r="3"/><circle cx="247.7" cy="193.3" r="3"/><circle cx="248.8" cy="191.1" r="3"/><circle cx="249.3" cy="195.0" r="3"/><circle cx="251.5" cy="192.7" r="3"/><circle cx="252.4" cy="190.4" r="3"/><circle cx="253.7" cy="194.5" r="3"/><circle cx="254.9" cy="191.9" r="3"/><circle cx="255.4" cy="196.9" r="3"/><circle cx="256.8" cy="194.3" r="3"/><circle cx="258.3" cy="191.2" r="3"/><circle cx="259.5" cy="196.2" r="3"/><circle cx="260.8" cy="193.5" r="3"/><circle cx="263.1" cy="190.7" r="3"/><circle cx="262.2" cy="196.1" r="3"/><circle cx="265.2" cy="193.4" r="3"/><circle cx="264.2" cy="199.0" r="3"/><circle cx="266.3" cy="196.1" r="3"/><circle cx="269.0" cy="192.2" r="3"/><circle cx="267.6" cy="199.3" r="3"/><circle cx="270.5" cy="195.7" r="3"/><circle cx="273.3" cy="191.6" r="3"/><circle cx="272.0" cy="199.0" r="3"/><circle cx="274.5" cy="195.4" r="3"/><circle cx="273.0" cy="202.2" r="3"/><circle cx="276.0" cy="198.7" r="3"/><circle cx="278.4" cy="195.6" r="3"/><circle cx="277.0" cy="201.7" r="3"/><circle cx="279.7" cy="199.2" r="3"/><circle cx="278.1" cy="204.8" r="3"/><circle cx="280.9" cy="202.3" r="3"/><circle cx="283.5" cy="200.1" r="3"/><circle cx="282.4" cy="205.5" r="3"/><circle cx="285.2" cy="203.0" r="3"/><circle cx="287.8" cy="201.1" r="3"/><circle cx="303.3" cy="199.2" r="3"/><circle cx="326.7" cy="208.3" r="3"/><circle cx="311.7" cy="204.2" r="3"/><circle cx="276.7" cy="195.8" r="3"/><circle cx="271.7" cy="188.3" r="3"/><circle cx="286.7" cy="201.7" r="3"/><circle cx="295.0" cy="200.8" r="3"/><circle cx="286.1" cy="208.0" r="3"/><circle cx="287.8" cy="205.0" r="3"/><circle cx="288.9" cy="202.0" r="3"/><circle cx="288.5" cy="207.7" r="3"/><circle cx="290.0" cy="204.5" r="3"/><circle cx="289.6" cy="210.0" r="3"/><circle cx="291.4" cy="207.2" r="3"/><circle cx="293.3" cy="203.4" r="3"/><circle cx="292.4" cy="209.4" r="3"/><circle cx="294.6" cy="206.4" r="3"/><circle cx="296.7" cy="203.0" r="3"/><circle cx="295.4" cy="209.2" r="3"/><circle cx="297.5" cy="205.4" r="3"/><circle cx="296.2" cy="211.8" r="3"/><circle cx="298.2" cy="208.4" r="3"/><circle cx="300.0" cy="204.8" r="3"/><circle cx="298.6" cy="211.1" r="3"/><circle cx="300.5" cy="207.9" r="3"/><circle cx="303.1" cy="204.5" r="3"/><circle cx="301.7" cy="210.7" r="3"/><circle cx="303.8" cy="206.8" r="3"/><circle cx="302.3" cy="213.6" r="3"/><circle cx="304.1" cy="209.8" r="3"/><circle cx="307.3" cy="206.5" r="3"/><circle cx="304.5" cy="213.0" r="3"/><circle cx="307.3" cy="209.5" r="3"/><circle cx="304.7" cy="215.8" r="3"/><circle cx="307.3" cy="212.6" r="3"/><circle cx="310.2" cy="209.3" r="3"/><circle cx="307.8" cy="216.1" r="3"/><circle cx="310.4" cy="212.8" r="3"/><circle cx="313.6" cy="209.1" r="3"/><circle cx="310.3" cy="215.9" r="3"/><circle cx="313.7" cy="212.6" r="3"/><circle cx="310.4" cy="218.7" r="3"/><circle cx="313.8" cy="215.8" r="3"/><circle cx="316.6" cy="212.2" r="3"/><circle cx="314.2" cy="218.7" r="3"/><circle cx="316.5" cy="215.0" r="3"/><circle cx="314.9" cy="221.9" r="3"/><circle cx="317.1" cy="218.1" r="3"/><circle cx="319.4" cy="214.7" r="3"/><circle cx="317.5" cy="221.3" r="3"/><circle cx="320.0" cy="217.6" r="3"/><circle cx="322.1" cy="213.9" r="3"/><circle cx="320.5" cy="220.6" r="3"/><circle cx="322.6" cy="216.9" r="3"/><circle cx="320.9" cy="224.1" r="3"/><circle cx="323.3" cy="220.0" r="3"/><circle cx="325.7" cy="216.5" r="3"/><circle cx="324.0" cy="223.4" r="3"/><circle cx="326.5" cy="219.3" r="3"/><circle cx="327.6" cy="215.2" r="3"/><circle cx="327.3" cy="222.2" r="3"/><circle cx="328.9" cy="218.3" r="3"/><circle cx="328.6" cy="225.1" r="3"/><circle cx="329.9" cy="221.4" r="3"/><circle cx="332.1" cy="217.3" r="3"/><circle cx="331.2" cy="224.4" r="3"/><circle cx="332.7" cy="220.0" r="3"/><circle cx="332.3" cy="227.4" r="3"/><circle cx="334.2" cy="223.0" r="3"/><circle cx="336.1" cy="219.5" r="3"/><circle cx="334.6" cy="226.0" r="3"/><circle cx="336.6" cy="222.1" r="3"/><circle cx="338.4" cy="218.7" r="3"/><circle cx="337.5" cy="224.7" r="3"/><circle cx="339.3" cy="221.5" r="3"/><circle cx="338.8" cy="227.5" r="3"/><circle cx="339.9" cy="224.5" r="3"/><circle cx="341.8" cy="221.4" r="3"/><circle cx="341.4" cy="226.5" r="3"/><circle cx="342.8" cy="223.8" r="3"/><circle cx="342.1" cy="228.9" r="3"/><circle cx="343.7" cy="226.2" r="3"/><circle cx="345.3" cy="223.6" r="3"/><circle cx="345.0" cy="227.7" r="3"/><circle cx="346.3" cy="225.7" r="3"/><circle cx="348.0" cy="223.9" r="3"/><circle cx="348.1" cy="227.3" r="3"/><circle cx="349.2" cy="225.4" r="3"/><circle cx="349.1" cy="229.2" r="3"/><circle cx="350.6" cy="227.4" r="3"/><circle cx="351.4" cy="225.4" r="3"/><circle cx="351.3" cy="229.3" r="3"/><circle cx="352.5" cy="227.4" r="3"/><circle cx="354.0" cy="225.8" r="3"/><circle cx="354.3" cy="228.7" r="3"/><circle cx="355.3" cy="227.6" r="3"/><circle cx="356.0" cy="230.3" r="3"/><circle cx="357.1" cy="228.7" r="3"/><circle cx="357.9" cy="227.3" r="3"/><circle cx="358.6" cy="230.2" r="3"/><circle cx="359.2" cy="228.3" r="3"/><circle cx="360.0" cy="231.4" r="3"/><circle cx="361.1" cy="229.6" r="3"/><circle cx="362.9" cy="228.3" r="3"/><circle cx="361.9" cy="230.8" r="3"/><circle cx="363.3" cy="230.2" r="3"/><circle cx="364.8" cy="229.2" r="3"/><circle cx="365.1" cy="232.0" r="3"/><circle cx="366.5" cy="230.6" r="3"/><circle cx="366.9" cy="233.7" r="3"/><circle cx="367.7" cy="231.8" r="3"/><circle cx="368.5" cy="230.1" r="3"/><circle cx="369.1" cy="233.0" r="3"/><circle cx="370.0" cy="231.0" r="3"/><circle cx="371.0" cy="229.6" r="3"/><circle cx="371.3" cy="231.7" r="3"/><circle cx="372.3" cy="230.4" r="3"/><circle cx="373.8" cy="232.6" r="3"/><circle cx="374.4" cy="231.5" r="3"/><circle cx="374.8" cy="230.1" r="3"/><circle cx="376.1" cy="232.1" r="3"/><circle cx="376.4" cy="230.5" r="3"/><circle cx="377.9" cy="232.9" r="3"/><circle cx="378.1" cy="231.3" r="3"/><circle cx="379.1" cy="229.7" r="3"/><circle cx="380.1" cy="231.8" r="3"/><circle cx="381.1" cy="230.5" r="3"/><circle cx="381.2" cy="229.3" r="3"/><circle cx="382.4" cy="231.7" r="3"/><circle cx="383.2" cy="230.0" r="3"/><circle cx="384.6" cy="231.9" r="3"/><circle cx="385.1" cy="230.7" r="3"/><circle cx="385.4" cy="229.4" r="3"/><circle cx="386.2" cy="231.4" r="3"/><circle cx="386.9" cy="229.9" r="3"/><circle cx="388.1" cy="231.5" r="3"/><circle cx="388.9" cy="230.6" r="3"/><circle cx="389.3" cy="228.8" r="3"/><circle cx="390.7" cy="230.8" r="3"/><circle cx="391.3" cy="229.2" r="3"/><circle cx="391.8" cy="228.1" r="3"/><circle cx="392.8" cy="229.9" r="3"/><circle cx="393.2" cy="228.7" r="3"/><circle cx="394.6" cy="230.9" r="3"/><circle cx="395.4" cy="228.9" r="3"/><circle cx="396.2" cy="228.0" r="3"/><circle cx="397.2" cy="230.0" r="3"/><circle cx="397.7" cy="228.4" r="3"/><circle cx="398.3" cy="226.9" r="3"/><circle cx="399.1" cy="228.7" r="3"/><circle cx="400.3" cy="227.5" r="3"/><circle cx="400.4" cy="229.8" r="3"/><circle cx="401.8" cy="228.4" r="3"/><circle cx="402.8" cy="227.3" r="3"/><circle cx="403.2" cy="229.6" r="3"/><circle cx="404.2" cy="228.1" r="3"/><circle cx="404.8" cy="230.6" r="3"/><circle cx="405.8" cy="229.4" r="3"/><circle cx="406.6" cy="227.9" r="3"/><circle cx="407.7" cy="230.2" r="3"/><circle cx="408.3" cy="228.5" r="3"/><circle cx="409.3" cy="227.4" r="3"/><circle cx="410.2" cy="229.9" r="3"/><circle cx="411.3" cy="228.4" r="3"/><circle cx="411.5" cy="230.8" r="3"/><circle cx="412.7" cy="229.2" r="3"/><circle cx="413.2" cy="227.9" r="3"/><circle cx="414.0" cy="230.3" r="3"/><circle cx="415.4" cy="229.0" r="3"/><circle cx="416.1" cy="231.3" r="3"/><circle cx="416.4" cy="230.4" r="3"/><circle cx="417.2" cy="228.5" r="3"/><circle cx="418.0" cy="230.8" r="3"/><circle cx="419.1" cy="229.5" r="3"/><circle cx="419.8" cy="228.0" r="3"/><circle cx="421.0" cy="230.4" r="3"/><circle cx="421.5" cy="229.2" r="3"/><circle cx="422.8" cy="231.7" r="3"/><circle cx="423.5" cy="230.3" r="3"/><circle cx="424.5" cy="228.9" r="3"/><circle cx="424.5" cy="230.9" r="3"/><circle cx="426.0" cy="229.8" r="3"/><circle cx="427.0" cy="228.4" r="3"/><circle cx="427.1" cy="231.3" r="3"/><circle cx="428.5" cy="229.5" r="3"/><circle cx="428.6" cy="232.5" r="3"/><circle cx="430.0" cy="231.0" r="3"/><circle cx="431.5" cy="228.9" r="3"/><circle cx="431.6" cy="232.3" r="3"/><circle cx="432.7" cy="230.3" r="3"/><circle cx="432.8" cy="234.5" r="3"/><circle cx="433.8" cy="232.5" r="3"/><circle cx="435.3" cy="230.1" r="3"/><circle cx="434.9" cy="234.3" r="3"/><circle cx="436.4" cy="232.3" r="3"/><circle cx="438.4" cy="229.8" r="3"/><circle cx="438.1" cy="234.1" r="3"/><circle cx="439.4" cy="231.8" r="3"/><circle cx="438.6" cy="236.8" r="3"/><circle cx="440.4" cy="233.8" r="3"/><circle cx="442.8" cy="231.7" r="3"/><circle cx="441.8" cy="236.5" r="3"/><circle cx="443.4" cy="233.5" r="3"/><circle cx="445.6" cy="230.8" r="3"/><circle cx="444.5" cy="236.5" r="3"/><circle cx="446.2" cy="233.2" r="3"/><circle cx="446.3" cy="239.0" r="3"/><circle cx="447.4" cy="235.9" r="3"/><circle cx="449.4" cy="233.1" r="3"/><circle cx="449.4" cy="238.2" r="3"/><circle cx="450.7" cy="235.5" r="3"/><circle cx="450.3" cy="240.0" r="3"/><circle cx="452.1" cy="237.6" r="3"/><circle cx="453.2" cy="235.0" r="3"/><circle cx="453.5" cy="239.2" r="3"/><circle cx="454.6" cy="237.1" r="3"/><circle cx="456.1" cy="235.5" r="3"/><circle cx="456.4" cy="238.9" r="3"/><circle cx="457.4" cy="237.5" r="3"/><circle cx="451.7" cy="234.2" r="3"/><circle cx="456.7" cy="237.5" r="3"/><circle cx="445.0" cy="239.2" r="3"/><circle cx="461.7" cy="240.0" r="3"/><circle cx="470.0" cy="241.7" r="3"/><circle cx="465.8" cy="240.0" r="3"/><circle cx="463.3" cy="248.3" r="3"/><circle cx="469.2" cy="247.5" r="3"/><circle cx="464.2" cy="251.7" r="3"/><circle cx="473.3" cy="255.8" r="3"/><circle cx="471.7" cy="260.0" r="3"/><circle cx="443.3" cy="233.3" r="3"/><circle cx="446.7" cy="239.2" r="3"/><circle cx="496.7" cy="202.5" r="3"/><circle cx="503.3" cy="204.2" r="3"/><circle cx="508.3" cy="202.5" r="3"/><circle cx="501.7" cy="207.5" r="3"/><circle cx="490.0" cy="212.5" r="3"/><circle cx="491.7" cy="217.5" r="3"/><circle cx="480.0" cy="215.0" r="3"/><circle cx="475.8" cy="218.3" r="3"/><circle cx="476.7" cy="225.8" r="3"/><circle cx="522.5" cy="163.0" r="3"/><circle cx="523.3" cy="168.3" r="3"/><circle cx="521.7" cy="175.0" r="3"/><circle cx="516.7" cy="175.8" r="3"/><circle cx="515.8" cy="180.0" r="3"/><circle cx="512.5" cy="183.3" r="3"/><circle cx="509.2" cy="186.7" r="3"/><circle cx="505.8" cy="190.0" r="3"/><circle cx="519.2" cy="190.0" r="3"/><circle cx="510.8" cy="194.2" r="3"/><circle cx="503.3" cy="194.2" r="3"/><circle cx="499.2" cy="197.5" r="3"/><circle cx="504.2" cy="199.2" r="3"/><circle cx="496.7" cy="201.7" r="3"/><circle cx="501.7" cy="204.2" r="3"/><circle cx="507.5" cy="202.5" r="3"/><circle cx="502.5" cy="208.3" r="3"/><circle cx="497.5" cy="205.8" r="3"/><circle cx="491.7" cy="213.3" r="3"/><circle cx="490.8" cy="217.5" r="3"/><circle cx="480.8" cy="213.3" r="3"/><circle cx="476.7" cy="217.5" r="3"/><circle cx="473.3" cy="221.7" r="3"/><circle cx="529.2" cy="125.0" r="3"/><circle cx="525.8" cy="135.8" r="3"/><circle cx="525.0" cy="154.2" r="3"/><circle cx="523.3" cy="157.5" r="3"/><circle cx="522.5" cy="163.3" r="3"/><circle cx="523.3" cy="167.5" r="3"/><circle cx="140.0" cy="143.0" r="3"/><circle cx="150.0" cy="153.0" r="3"/><circle cx="154.5" cy="156.5" r="3"/><circle cx="163.6" cy="157.5" r="3"/><circle cx="165.1" cy="162.6" r="3"/><circle cx="168.6" cy="165.6" r="3"/><circle cx="161.1" cy="160.6" r="3"/><circle cx="260.5" cy="186.0" r="3"/><circle cx="256.0" cy="188.0" r="3"/><circle cx="269.5" cy="187.0" r="3"/><circle cx="273.5" cy="189.5" r="3"/><circle cx="258.0" cy="193.0" r="3"/><circle cx="263.0" cy="192.0" r="3"/><circle cx="268.0" cy="192.5" r="3"/><circle cx="278.0" cy="193.5" r="3"/><circle cx="257.0" cy="197.0" r="3"/><circle cx="262.5" cy="196.5" r="3"/><circle cx="268.0" cy="197.0" r="3"/><circle cx="273.0" cy="196.0" r="3"/><circle cx="279.0" cy="197.0" r="3"/><circle cx="266.0" cy="200.5" r="3"/><circle cx="271.0" cy="200.0" r="3"/><circle cx="276.0" cy="201.5" r="3"/><circle cx="272.0" cy="204.5" r="3"/><circle cx="276.5" cy="206.1" r="3"/><circle cx="280.1" cy="203.5" r="3"/><circle cx="284.1" cy="201.5" r="3"/><circle cx="275.0" cy="208.6" r="3"/><circle cx="280.1" cy="209.1" r="3"/><circle cx="285.1" cy="207.1" r="3"/><circle cx="288.6" cy="204.0" r="3"/><circle cx="293.1" cy="200.5" r="3"/><circle cx="297.1" cy="203.0" r="3"/><circle cx="295.1" cy="206.1" r="3"/><circle cx="290.1" cy="207.1" r="3"/><circle cx="299.1" cy="210.1" r="3"/><circle cx="302.1" cy="205.6" r="3"/><circle cx="303.1" cy="198.5" r="3"/><circle cx="306.1" cy="213.1" r="3"/><circle cx="310.6" cy="204.0" r="3"/><circle cx="309.1" cy="209.1" r="3"/><circle cx="314.1" cy="211.1" r="3"/><circle cx="313.1" cy="215.1" r="3"/><circle cx="285.1" cy="210.1" r="3"/><circle cx="481.6" cy="212.5" r="3"/><circle cx="477.5" cy="215.6" r="3"/><circle cx="474.5" cy="219.1" r="3"/><circle cx="488.6" cy="211.5" r="3"/><circle cx="491.6" cy="215.1" r="3"/><circle cx="499.1" cy="198.5" r="3"/><circle cx="503.1" cy="196.0" r="3"/><circle cx="511.1" cy="193.0" r="3"/><circle cx="505.1" cy="192.0" r="3"/><circle cx="500.1" cy="205.0" r="3"/><circle cx="495.1" cy="202.5" r="3"/><circle cx="471.0" cy="245.0" r="3"/><circle cx="466.5" cy="244.5" r="3"/><circle cx="470.0" cy="249.0" r="3"/><circle cx="518.6" cy="178.0" r="3"/><circle cx="515.6" cy="181.1" r="3"/><circle cx="513.1" cy="184.6" r="3"/><circle cx="510.1" cy="188.1" r="3"/><circle cx="507.1" cy="191.1" r="3"/><circle cx="124.6" cy="116.5" r="3"/><circle cx="129.6" cy="115.5" r="3"/><circle cx="127.1" cy="120.1" r="3"/><circle cx="131.6" cy="122.1" r="3"/><circle cx="135.1" cy="125.1" r="3"/><circle cx="138.1" cy="129.6" r="3"/><circle cx="141.1" cy="128.1" r="3"/><circle cx="118.0" cy="113.0" r="3"/><circle cx="98.0" cy="78.8" r="3"/></g><g fill="#0000ff"><circle cx="522.5" cy="117.0" r="3"/><circle cx="526.7" cy="118.0" r="3"/><circle cx="519.7" cy="118.7" r="3"/><circle cx="528.3" cy="120.0" r="3"/><circle cx="524.7" cy="116.7" r="3"/><circle cx="520.8" cy="117.7" r="3"/><circle cx="517.6" cy="121.5" r="3"/><circle cx="517.1" cy="122.8" r="3"/><circle cx="517.0" cy="124.6" r="3"/><circle cx="515.9" cy="125.7" r="3"/><circle cx="515.3" cy="126.9" r="3"/><circle cx="514.5" cy="128.5" r="3"/><circle cx="514.0" cy="130.2" r="3"/><circle cx="513.3" cy="131.7" r="3"/><circle cx="511.7" cy="133.5" r="3"/><circle cx="511.5" cy="135.3" r="3"/><circle cx="510.3" cy="136.0" r="3"/><circle cx="509.7" cy="137.7" r="3"/><circle cx="509.1" cy="139.5" r="3"/><circle cx="508.3" cy="140.2" r="3"/><circle cx="508.2" cy="141.7" r="3"/><circle cx="508.0" cy="143.4" r="3"/><circle cx="506.4" cy="144.6" r="3"/><circle cx="505.9" cy="146.2" r="3"/><circle cx="504.2" cy="147.8" r="3"/><circle cx="503.9" cy="149.5" r="3"/><circle cx="503.4" cy="151.2" r="3"/><circle cx="502.8" cy="152.3" r="3"/><circle cx="502.6" cy="153.8" r="3"/><circle cx="501.4" cy="154.7" r="3"/><circle cx="501.1" cy="156.8" r="3"/><circle cx="500.8" cy="158.4" r="3"/><circle cx="500.1" cy="159.3" r="3"/><circle cx="499.6" cy="160.9" r="3"/><circle cx="499.5" cy="162.8" r="3"/><circle cx="498.2" cy="163.4" r="3"/><circle cx="497.8" cy="165.4" r="3"/><circle cx="497.2" cy="166.4" r="3"/><circle cx="496.7" cy="168.0" r="3"/><circle cx="496.6" cy="169.5" r="3"/><circle cx="495.0" cy="170.6" r="3"/><circle cx="494.7" cy="172.1" r="3"/><circle cx="494.1" cy="173.9" r="3"/><circle cx="493.1" cy="174.8" r="3"/><circle cx="492.5" cy="176.6" r="3"/><circle cx="490.3" cy="177.4" r="3"/><circle cx="490.4" cy="179.7" r="3"/><circle cx="489.7" cy="181.4" r="3"/><circle cx="488.1" cy="182.6" r="3"/><circle cx="488.1" cy="183.9" r="3"/><circle cx="486.5" cy="185.2" r="3"/><circle cx="486.0" cy="186.8" r="3"/><circle cx="485.7" cy="188.2" r="3"/><circle cx="483.9" cy="189.4" r="3"/><circle cx="483.6" cy="190.6" r="3"/><circle cx="483.8" cy="192.9" r="3"/><circle cx="481.8" cy="194.0" r="3"/><circle cx="481.1" cy="195.5" r="3"/><circle cx="479.6" cy="196.7" r="3"/><circle cx="479.2" cy="198.3" r="3"/><circle cx="479.1" cy="200.5" r="3"/><circle cx="478.1" cy="201.3" r="3"/><circle cx="477.5" cy="202.7" r="3"/><circle cx="477.7" cy="204.6" r="3"/><circle cx="475.9" cy="205.2" r="3"/><circle cx="475.3" cy="207.4" r="3"/><circle cx="474.2" cy="208.4" r="3"/><circle cx="473.8" cy="209.8" r="3"/><circle cx="473.6" cy="211.8" r="3"/><circle cx="471.7" cy="212.5" r="3"/><circle cx="471.5" cy="214.4" r="3"/><circle cx="469.7" cy="215.3" r="3"/><circle cx="470.2" cy="216.7" r="3"/><circle cx="469.7" cy="218.8" r="3"/><circle cx="468.2" cy="219.8" r="3"/><circle cx="467.5" cy="221.5" r="3"/><circle cx="467.5" cy="217.5" r="3"/><circle cx="460.0" cy="225.8" r="3"/><circle cx="462.5" cy="230.0" r="3"/><circle cx="458.3" cy="236.7" r="3"/><circle cx="455.0" cy="240.8" r="3"/><circle cx="450.0" cy="244.2" r="3"/><circle cx="452.5" cy="249.2" r="3"/><circle cx="448.3" cy="255.8" r="3"/><circle cx="451.7" cy="251.0" r="3"/><circle cx="448.7" cy="256.8" r="3"/><circle cx="444.2" cy="259.3" r="3"/><circle cx="447.5" cy="261.3" r="3"/><circle cx="438.3" cy="268.0" r="3"/><circle cx="442.5" cy="270.2" r="3"/><circle cx="440.8" cy="274.0" r="3"/><circle cx="435.0" cy="283.5" r="3"/><circle cx="437.5" cy="285.2" r="3"/><circle cx="435.8" cy="286.8" r="3"/><circle cx="432.5" cy="292.7" r="3"/><circle cx="435.0" cy="294.0" r="3"/><circle cx="428.3" cy="303.5" r="3"/><circle cx="431.3" cy="302.7" r="3"/><circle cx="430.3" cy="306.8" r="3"/><circle cx="425.8" cy="312.7" r="3"/><circle cx="429.2" cy="314.3" r="3"/><circle cx="466.1" cy="222.6" r="3"/><circle cx="466.3" cy="225.1" r="3"/><circle cx="463.3" cy="226.8" r="3"/><circle cx="463.1" cy="229.3" r="3"/><circle cx="462.7" cy="231.8" r="3"/><circle cx="460.5" cy="232.6" r="3"/><circle cx="460.8" cy="234.9" r="3"/><circle cx="458.5" cy="235.9" r="3"/><circle cx="457.6" cy="238.2" r="3"/><circle cx="457.3" cy="240.4" r="3"/><circle cx="454.3" cy="241.8" r="3"/><circle cx="453.8" cy="244.4" r="3"/><circle cx="451.5" cy="245.5" r="3"/><circle cx="450.7" cy="247.6" r="3"/><circle cx="522.1" cy="116.0" r="3"/><circle cx="519.1" cy="117.0" r="3"/><circle cx="525.1" cy="116.5" r="3"/><circle cx="528.1" cy="118.0" r="3"/><circle cx="517.1" cy="119.5" r="3"/><circle cx="529.6" cy="119.5" r="3"/></g><g fill="#ff7f00"><circle cx="521.7" cy="121.7" r="3"/><circle cx="518.3" cy="124.2" r="3"/><circle cx="524.2" cy="123.3" r="3"/><circle cx="522.5" cy="126.7" r="3"/><circle cx="527.5" cy="126.7" r="3"/><circle cx="519.2" cy="130.0" r="3"/><circle cx="516.7" cy="132.5" r="3"/><circle cx="526.7" cy="131.7" r="3"/><circle cx="513.3" cy="136.7" r="3"/><circle cx="511.7" cy="140.8" r="3"/><circle cx="513.3" cy="145.0" r="3"/><circle cx="509.2" cy="148.3" r="3"/><circle cx="507.5" cy="152.5" r="3"/><circle cx="505.0" cy="158.3" r="3"/><circle cx="505.8" cy="161.7" r="3"/><circle cx="501.7" cy="164.2" r="3"/><circle cx="500.0" cy="167.5" r="3"/><circle cx="525.8" cy="140.8" r="3"/><circle cx="527.5" cy="122.5" r="3"/><circle cx="505.0" cy="161.7" r="3"/><circle cx="500.8" cy="165.8" r="3"/><circle cx="502.5" cy="170.0" r="3"/><circle cx="493.3" cy="179.2" r="3"/><circle cx="499.2" cy="182.5" r="3"/><circle cx="490.0" cy="190.0" r="3"/><circle cx="495.8" cy="190.8" r="3"/><circle cx="490.8" cy="195.0" r="3"/><circle cx="496.7" cy="194.2" r="3"/><circle cx="492.5" cy="199.2" r="3"/><circle cx="485.0" cy="201.7" r="3"/><circle cx="489.2" cy="205.0" r="3"/><circle cx="485.8" cy="208.3" r="3"/><circle cx="493.3" cy="206.7" r="3"/><circle cx="485.0" cy="215.0" r="3"/><circle cx="480.8" cy="218.3" r="3"/><circle cx="483.3" cy="221.7" r="3"/><circle cx="494.2" cy="209.2" r="3"/><circle cx="480.0" cy="230.0" r="3"/><circle cx="476.7" cy="234.2" r="3"/><circle cx="481.7" cy="236.7" r="3"/><circle cx="477.2" cy="244.7" r="3"/><circle cx="456.7" cy="256.3" r="3"/><circle cx="446.3" cy="266.3" r="3"/><circle cx="451.7" cy="269.7" r="3"/><circle cx="473.3" cy="269.7" r="3"/><circle cx="460.8" cy="281.0" r="3"/><circle cx="466.7" cy="279.7" r="3"/><circle cx="470.8" cy="284.8" r="3"/><circle cx="448.3" cy="289.8" r="3"/><circle cx="474.7" cy="298.0" r="3"/><circle cx="455.3" cy="305.2" r="3"/><circle cx="447.5" cy="311.3" r="3"/><circle cx="458.7" cy="311.0" r="3"/><circle cx="471.3" cy="311.3" r="3"/><circle cx="489.1" cy="193.0" r="3"/><circle cx="493.6" cy="192.5" r="3"/><circle cx="497.6" cy="194.0" r="3"/><circle cx="492.6" cy="197.5" r="3"/><circle cx="489.1" cy="197.0" r="3"/><circle cx="485.1" cy="201.0" r="3"/><circle cx="488.1" cy="205.0" r="3"/><circle cx="479.1" cy="235.5" r="3"/><circle cx="507.1" cy="160.5" r="3"/><circle cx="502.5" cy="157.5" r="3"/><circle cx="499.0" cy="182.1" r="3"/><circle cx="501.5" cy="183.1" r="3"/><circle cx="495.0" cy="190.1" r="3"/><circle cx="522.1" cy="120.0" r="3"/><circle cx="519.1" cy="121.5" r="3"/><circle cx="525.1" cy="121.5" r="3"/><circle cx="516.6" cy="124.0" r="3"/><circle cx="520.1" cy="125.0" r="3"/><circle cx="524.1" cy="125.0" r="3"/><circle cx="528.1" cy="126.5" r="3"/><circle cx="516.1" cy="127.5" r="3"/><circle cx="520.1" cy="129.0" r="3"/><circle cx="514.0" cy="131.0" r="3"/><circle cx="517.6" cy="132.0" r="3"/><circle cx="527.1" cy="130.0" r="3"/><circle cx="512.5" cy="134.5" r="3"/><circle cx="516.1" cy="135.6" r="3"/><circle cx="527.6" cy="133.5" r="3"/><circle cx="511.5" cy="138.1" r="3"/><circle cx="514.0" cy="139.6" r="3"/><circle cx="509.5" cy="141.6" r="3"/><circle cx="513.0" cy="142.6" r="3"/><circle cx="508.5" cy="144.6" r="3"/><circle cx="511.5" cy="146.1" r="3"/><circle cx="525.6" cy="141.1" r="3"/><circle cx="527.6" cy="142.1" r="3"/></g></g>
<g stroke="#666666" stroke-width="1" fill="none">
<rect x="96.4" y="15.5" width="485.1" height="300.15"/>
<path d="M96.10 315.65v-5.5M96.10 15.5v5.5"/>
<path d="M112.27 315.65v-2.9M112.27 15.5v2.9"/>
<path d="M128.43 315.65v-2.9M128.43 15.5v2.9"/>
<path d="M144.60 315.65v-2.9M144.60 15.5v2.9"/>
<path d="M160.76 315.65v-2.9M160.76 15.5v2.9"/>
<path d="M176.93 315.65v-5.5M176.93 15.5v5.5"/>
<path d="M193.10 315.65v-2.9M193.10 15.5v2.9"/>
<path d="M209.26 315.65v-2.9M209.26 15.5v2.9"/>
<path d="M225.43 315.65v-2.9M225.43 15.5v2.9"/>
<path d="M241.59 315.65v-2.9M241.59 15.5v2.9"/>
<path d="M257.76 315.65v-5.5M257.76 15.5v5.5"/>
<path d="M273.93 315.65v-2.9M273.93 15.5v2.9"/>
<path d="M290.09 315.65v-2.9M290.09 15.5v2.9"/>
<path d="M306.26 315.65v-2.9M306.26 15.5v2.9"/>
<path d="M322.42 315.65v-2.9M322.42 15.5v2.9"/>
<path d="M338.59 315.65v-5.5M338.59 15.5v5.5"/>
<path d="M354.76 315.65v-2.9M354.76 15.5v2.9"/>
<path d="M370.92 315.65v-2.9M370.92 15.5v2.9"/>
<path d="M387.09 315.65v-2.9M387.09 15.5v2.9"/>
<path d="M403.25 315.65v-2.9M403.25 15.5v2.9"/>
<path d="M419.42 315.65v-5.5M419.42 15.5v5.5"/>
<path d="M435.59 315.65v-2.9M435.59 15.5v2.9"/>
<path d="M451.75 315.65v-2.9M451.75 15.5v2.9"/>
<path d="M467.92 315.65v-2.9M467.92 15.5v2.9"/>
<path d="M484.08 315.65v-2.9M484.08 15.5v2.9"/>
<path d="M500.25 315.65v-5.5M500.25 15.5v5.5"/>
<path d="M516.42 315.65v-2.9M516.42 15.5v2.9"/>
<path d="M532.58 315.65v-2.9M532.58 15.5v2.9"/>
<path d="M548.75 315.65v-2.9M548.75 15.5v2.9"/>
<path d="M564.91 315.65v-2.9M564.91 15.5v2.9"/>
<path d="M581.08 315.65v-5.5M581.08 15.5v5.5"/>
<path d="M96.4 315.85h5.5M581.5 315.85h-5.5"/>
<path d="M96.4 293.27h2.9M581.5 293.27h-2.9"/>
<path d="M96.4 280.07h2.9M581.5 280.07h-2.9"/>
<path d="M96.4 270.70h2.9M581.5 270.70h-2.9"/>
<path d="M96.4 263.43h2.9M581.5 263.43h-2.9"/>
<path d="M96.4 257.49h2.9M581.5 257.49h-2.9"/>
<path d="M96.4 252.47h2.9M581.5 252.47h-2.9"/>
<path d="M96.4 248.12h2.9M581.5 248.12h-2.9"/>
<path d="M96.4 244.28h2.9M581.5 244.28h-2.9"/>
<path d="M96.4 240.85h5.5M581.5 240.85h-5.5"/>
<path d="M96.4 218.27h2.9M581.5 218.27h-2.9"/>
<path d="M96.4 205.07h2.9M581.5 205.07h-2.9"/>
<path d="M96.4 195.70h2.9M581.5 195.70h-2.9"/>
<path d="M96.4 188.43h2.9M581.5 188.43h-2.9"/>
<path d="M96.4 182.49h2.9M581.5 182.49h-2.9"/>
<path d="M96.4 177.47h2.9M581.5 177.47h-2.9"/>
<path d="M96.4 173.12h2.9M581.5 173.12h-2.9"/>
<path d="M96.4 169.28h2.9M581.5 169.28h-2.9"/>
<path d="M96.4 165.85h5.5M581.5 165.85h-5.5"/>
<path d="M96.4 143.27h2.9M581.5 143.27h-2.9"/>
<path d="M96.4 130.07h2.9M581.5 130.07h-2.9"/>
<path d="M96.4 120.70h2.9M581.5 120.70h-2.9"/>
<path d="M96.4 113.43h2.9M581.5 113.43h-2.9"/>
<path d="M96.4 107.49h2.9M581.5 107.49h-2.9"/>
<path d="M96.4 102.47h2.9M581.5 102.47h-2.9"/>
<path d="M96.4 98.12h2.9M581.5 98.12h-2.9"/>
<path d="M96.4 94.28h2.9M581.5 94.28h-2.9"/>
<path d="M96.4 90.85h5.5M581.5 90.85h-5.5"/>
<path d="M96.4 68.27h2.9M581.5 68.27h-2.9"/>
<path d="M96.4 55.07h2.9M581.5 55.07h-2.9"/>
<path d="M96.4 45.70h2.9M581.5 45.70h-2.9"/>
<path d="M96.4 38.43h2.9M581.5 38.43h-2.9"/>
<path d="M96.4 32.49h2.9M581.5 32.49h-2.9"/>
<path d="M96.4 27.47h2.9M581.5 27.47h-2.9"/>
<path d="M96.4 23.12h2.9M581.5 23.12h-2.9"/>
<path d="M96.4 19.28h2.9M581.5 19.28h-2.9"/>
</g>
<g font-size="24">
<text x="90" y="25" text-anchor="end"><tspan x="79.3" >10</tspan></text>
<text x="80.2" y="14.7" font-size="17.5">4</text>
<text x="90" y="96.5" text-anchor="end">1000</text>
<text x="90" y="171.7" text-anchor="end">100</text>
<text x="90" y="246.7" text-anchor="end">10</text>
<text x="90" y="321.7" text-anchor="end">1</text>
<text x="96.1" y="340" text-anchor="middle">70</text>
<text x="176.9" y="340" text-anchor="middle">80</text>
<text x="257.8" y="340" text-anchor="middle">90</text>
<text x="338.6" y="340" text-anchor="middle">100</text>
<text x="419.4" y="340" text-anchor="middle">110</text>
<text x="500.2" y="340" text-anchor="middle">120</text>
<text x="581.1" y="340" text-anchor="middle">130</text>
</g>
<text x="245.4" y="377.2" font-size="26">Higgs Mass /GeV</text>
<text x="0.3" y="169.3" font-size="26.5">Δ</text><text class="i" x="19.5" y="175" font-size="18.5">p</text>
<rect x="139.2" y="31.1" width="64.1" height="45.6" fill="#fff" stroke="#ff0000" stroke-width="2.2"/>
<text style="fill:#ff0000"><tspan x="148.6" y="60.2" font-size="19.2">Δ</tspan><tspan x="160.2" y="59.800000000000004" font-size="18.6">(</tspan><tspan class="i" x="167.9" y="60.2" font-size="20">μ</tspan><tspan x="179.4" y="52.5" font-size="14">2</tspan><tspan x="179.4" y="65.5" font-size="14">0</tspan><tspan x="187.5" y="59.800000000000004" font-size="18.6">)</tspan></text>
<rect x="436.3" y="31.8" width="61.5" height="45.5" fill="#fff" stroke="#800080" stroke-width="2.2"/>
<text style="fill:#800080"><tspan x="445.6" y="60.5" font-size="19.2">Δ</tspan><tspan x="457.5" y="60.1" font-size="18.6">(</tspan><tspan class="i" x="463.7" y="60.5" font-size="20">h</tspan><tspan x="473.5" y="52.8" font-size="14">2</tspan><tspan class="i" x="474.9" y="65.8" font-size="14">t</tspan><tspan x="482.0" y="60.1" font-size="18.6">)</tspan></text>
<rect x="110.5" y="256.9" width="78.1" height="45.8" fill="#fff" stroke="#00a600" stroke-width="2.2"/>
<text style="fill:#00a600"><tspan x="119.4" y="285.6" font-size="19.2">Δ</tspan><tspan x="130.5" y="285.20000000000005" font-size="18.6">(</tspan><tspan class="i" x="137.5" y="285.6" font-size="20">m</tspan><tspan x="153.1" y="277.9" font-size="14">2</tspan><tspan x="153.1" y="290.9" font-size="14">1/2</tspan><tspan x="174.4" y="285.20000000000005" font-size="18.6">)</tspan></text>
<rect x="338.8" y="257.2" width="68" height="45.5" fill="#fff" stroke="#0000ff" stroke-width="2.2"/>
<text style="fill:#0000ff"><tspan x="347.4" y="285.9" font-size="19.2">Δ</tspan><tspan x="359.0" y="285.5" font-size="18.6">(</tspan><tspan class="i" x="366.7" y="285.9" font-size="20">m</tspan><tspan x="381.1" y="278.2" font-size="14">2</tspan><tspan x="381.1" y="291.2" font-size="14">0</tspan><tspan x="389.7" y="285.5" font-size="18.6">)</tspan></text>
<rect x="499.9" y="257.3" width="65.8" height="45.4" fill="#fff" stroke="#ff7f00" stroke-width="2.2"/>
<text style="fill:#ff7f00"><tspan x="508.6" y="285.9" font-size="19.2">Δ</tspan><tspan x="520.2" y="285.5" font-size="18.6">(</tspan><tspan class="i" x="527.9" y="285.9" font-size="20">A</tspan><tspan x="540.1" y="278.2" font-size="14">2</tspan><tspan x="540.1" y="291.2" font-size="14">0</tspan><tspan x="548.2" y="285.5" font-size="18.6">)</tspan></text>
</svg></body></html>
